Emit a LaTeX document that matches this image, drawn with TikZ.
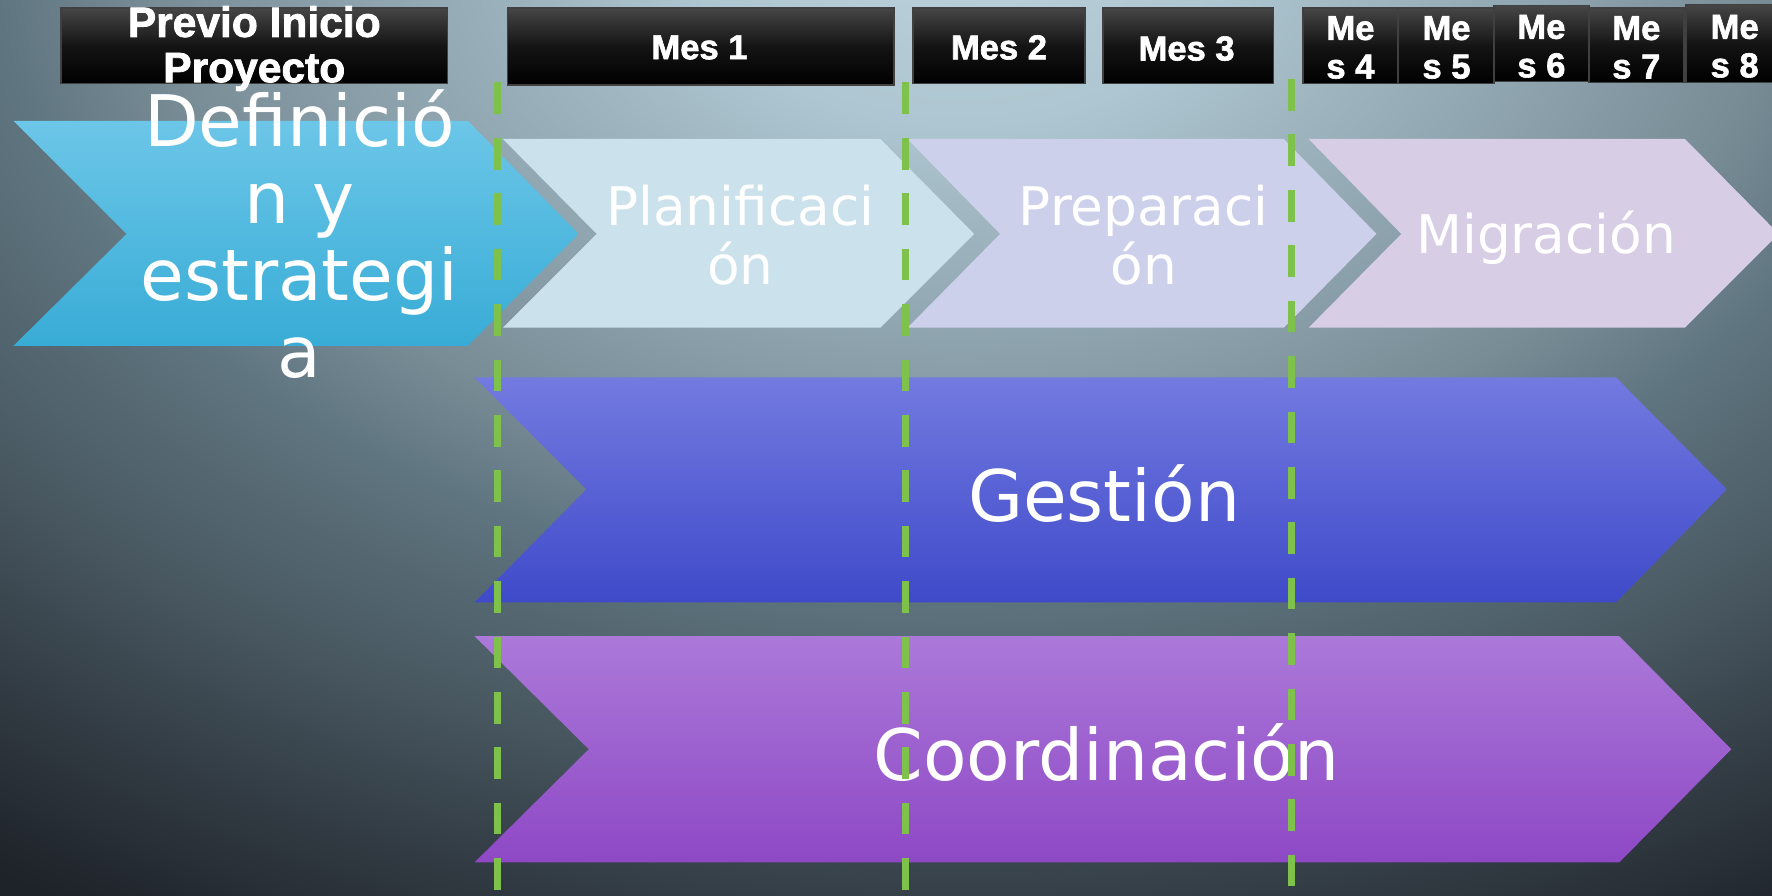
\documentclass[tikz,border=0pt]{standalone}
\usepackage{fontspec}
\setmainfont{DejaVu Sans}
\newfontfamily\hdrfont[FakeBold=1.8]{Liberation Sans Bold}
\definecolor{bgA}{HTML}{BCD1DB}
\definecolor{bgB}{HTML}{AEC6D1}
\definecolor{bgC}{HTML}{788C96}
\definecolor{bgD}{HTML}{5F7580}
\definecolor{bgE}{HTML}{4A5A63}
\definecolor{bgF}{HTML}{343E46}
\definecolor{bgG}{HTML}{22272E}
\definecolor{bgH}{HTML}{1E2329}
\pgfdeclareradialshading{bgrad}{\pgfpoint{0bp}{0bp}}{color(0bp)=(bgA); color(4bp)=(bgB); color(12bp)=(bgC); color(14.25bp)=(bgD); color(18bp)=(bgE); color(21.25bp)=(bgF); color(24.25bp)=(bgG); color(25bp)=(bgH); color(50bp)=(bgH)}
\definecolor{hdtop}{HTML}{464646}
\definecolor{hdmid}{HTML}{141414}
\definecolor{defTop}{HTML}{6CC6E8}
\definecolor{defBot}{HTML}{38ACD6}
\definecolor{planC}{HTML}{CBE1EB}
\definecolor{prepC}{HTML}{CCD0EA}
\definecolor{migC}{HTML}{D7CDE5}
\definecolor{gesTop}{HTML}{737AE0}
\definecolor{gesBot}{HTML}{3F4AC9}
\definecolor{cooTop}{HTML}{AB79D9}
\definecolor{cooBot}{HTML}{8E48C5}
\definecolor{dashgreen}{RGB}{126,194,76}
\begin{document}
\begin{tikzpicture}[x=0.01cm,y=-0.01cm,
  hdr/.style={draw=black!75, line width=0.4pt, top color=hdtop, bottom color=black, middle color=hdmid},
  hdrtext/.style={text=white, font=\hdrfont\fontsize{8.7}{9.7}\selectfont, align=center, inner sep=0pt},
  bigtext/.style={text=white, font=\fontsize{17.9}{19.35}\selectfont, align=center, inner sep=0pt},
  midtext/.style={text=white, font=\fontsize{13.4}{14.8}\selectfont, align=center, inner sep=0pt},
  gdash/.style={draw=dashgreen, line width=0.06cm, dash pattern=on 0.28cm off 0.21cm}
]
\useasboundingbox (0,0) rectangle (1568,792);
% background
\begin{scope}
  \clip (0,0) rectangle (1568,792);
  \shade[shading=bgrad] (-650,-1050) rectangle (2350,950);
\end{scope}

% chevrons
\shade[top color=defTop, bottom color=defBot] (12,107) -- (414,107) -- (512,207) -- (414,306) -- (12,306) -- (112,207) -- cycle;
\fill[planC] (445,123) -- (779,123) -- (862,207) -- (779,290) -- (445,290) -- (528,207) -- cycle;
\fill[prepC] (803,123) -- (1136,123) -- (1218,207) -- (1136,290) -- (803,290) -- (885,207) -- cycle;
\fill[migC] (1158,123) -- (1491,123) -- (1574,207) -- (1491,290) -- (1158,290) -- (1240,207) -- cycle;
\shade[top color=gesTop, bottom color=gesBot] (420,334) -- (1430,334) -- (1528,433) -- (1430,533) -- (420,533) -- (519,433) -- cycle;
\shade[top color=cooTop, bottom color=cooBot] (420,563) -- (1433,563) -- (1532,663) -- (1433,763) -- (420,763) -- (521,663) -- cycle;

% chevron labels
\node[bigtext] (def) at (265,207) {Definició\\n y\\estrategi\\a};
\node[midtext] (plan) at (655,208) {Planificaci\\ón};
\node[midtext] (prep) at (1012,208) {Preparaci\\ón};
\node[midtext] (mig) at (1368,210) {Migración};
\node[bigtext] (ges) at (977,437) {Gestión};
\node[bigtext] (coo) at (979,666) {Coordinación};

% header boxes
\shade[hdr] (54,7) rectangle (396,74);
\shade[hdr] (449,7) rectangle (791,75);
\shade[hdr] (808,7) rectangle (960,74);
\shade[hdr] (976,7) rectangle (1127,74);
\shade[hdr] (1153,7) rectangle (1237,74);
\shade[hdr] (1237,7) rectangle (1322,74);
\shade[hdr] (1322,5) rectangle (1406,72);
\shade[hdr] (1406,7) rectangle (1490,73);
\shade[hdr] (1492,4) rectangle (1575,73);

\node[hdrtext, font=\hdrfont\fontsize{10.7}{11.4}\selectfont] (hprev) at (225,43) {Previo Inicio\\Proyecto};
\node[hdrtext] (h1) at (619,42) {Mes 1};
\node[hdrtext] (h2) at (884,42) {Mes 2};
\node[hdrtext] (h3) at (1050,43) {Mes 3};
\node[hdrtext] (h4) at (1195,42) {Me\\s 4};
\node[hdrtext] (h5) at (1280,42) {Me\\s 5};
\node[hdrtext] (h6) at (1364,41) {Me\\s 6};
\node[hdrtext] (h7) at (1448,42) {Me\\s 7};
\node[hdrtext] (h8) at (1535,41) {Me\\s 8};

% dashed month separators
\coordinate (d1t) at (440,73);
\coordinate (d1b) at (440,792);
\coordinate (d2t) at (801,73);
\coordinate (d2b) at (801,792);
\coordinate (d3t) at (1143,70);
\coordinate (d3b) at (1143,792);
\draw[gdash] (d1t) -- (d1b);
\draw[gdash] (d2t) -- (d2b);
\draw[gdash] (d3t) -- (d3b);
\end{tikzpicture}
\end{document}
